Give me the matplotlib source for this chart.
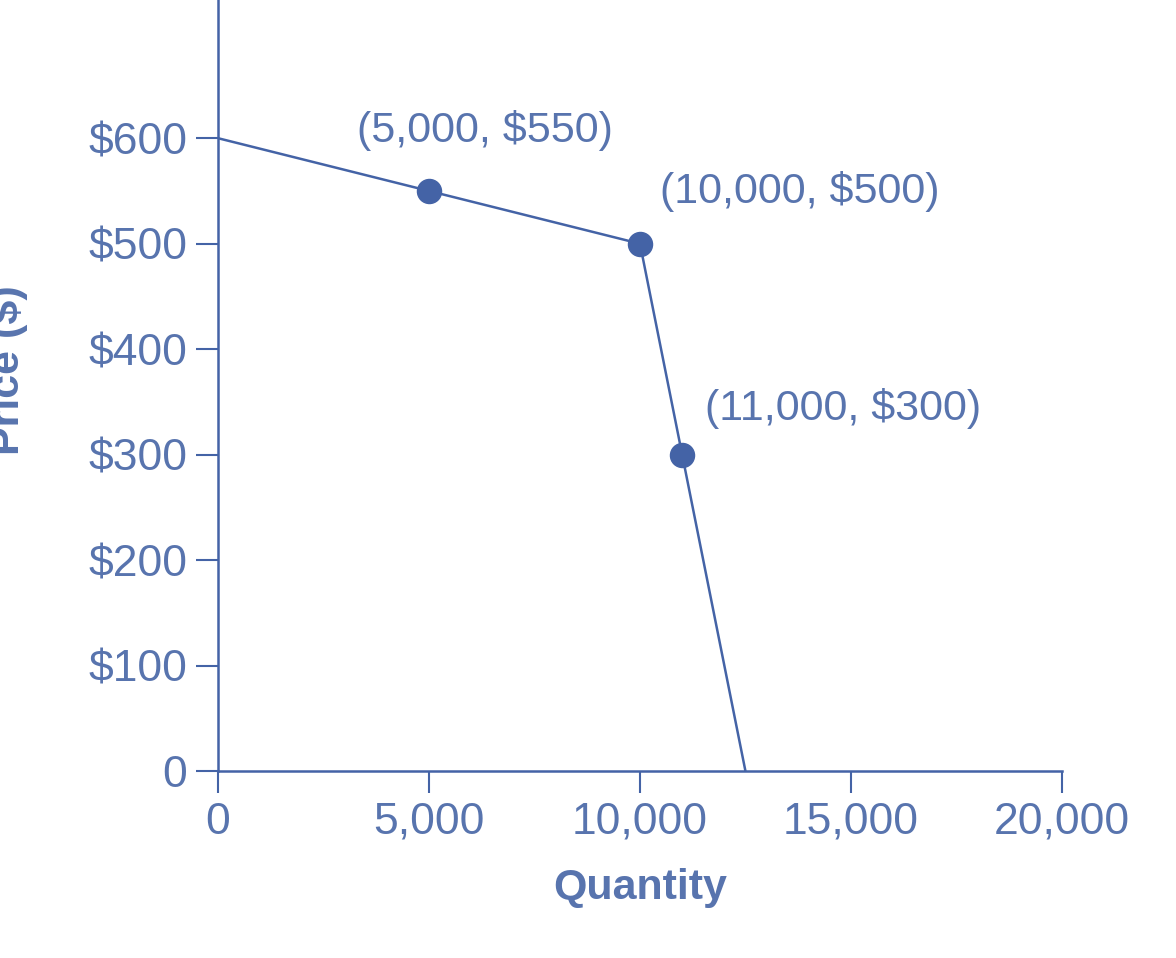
import matplotlib
matplotlib.use("Agg")
import matplotlib.pyplot as plt

line_x = [0, 5000, 10000, 11000, 12500]
line_y = [600, 550, 500, 300, 0]
pt_x = [5000, 10000, 11000]
pt_y = [550, 500, 300]
labels = ["(5,000, $550)", "(10,000, $500)", "(11,000, $300)"]
xticks = [0, 5000, 10000, 15000, 20000]
xticklabels = ["0", "5,000", "10,000", "15,000", "20,000"]
yticks = [0, 100, 200, 300, 400, 500, 600]
yticklabels = ["0", "$100", "$200", "$300", "$400", "$500", "$600"]

plt.rcParams['font.family'] = ['Liberation Sans', 'DejaVu Sans']
lc = '#4463a6'
tc = '#5874ae'
fig = plt.figure(figsize=(11.76, 9.58), dpi=100)
ax = fig.add_axes([0.1854, 0.195, 0.903 - 0.1854, 0.805])
ax.plot(line_x, line_y, color=lc, lw=1.8)
ax.scatter(pt_x, pt_y, s=300, color=lc, zorder=3)
ax.text(3300, 588, labels[0], ha='left', va='bottom', fontsize=31, color=tc)
ax.text(10470, 530, labels[1], ha='left', va='bottom', fontsize=31, color=tc)
ax.text(11540, 324, labels[2], ha='left', va='bottom', fontsize=31, color=tc)
ax.set_xlim(0, 20000)
ax.set_ylim(0, 731)
ax.set_xticks(xticks)
ax.set_xticklabels(xticklabels)
ax.set_yticks(yticks)
ax.set_yticklabels(yticklabels)
ax.tick_params(colors=lc, labelcolor=tc, labelsize=32, length=16, width=1.5, pad=6)
for s in ['top', 'right']:
    ax.spines[s].set_visible(False)
for s in ['left', 'bottom']:
    ax.spines[s].set_color(lc)
    ax.spines[s].set_linewidth(1.8)
ax.set_xlabel("Quantity", fontsize=31, fontweight='bold', color=tc, labelpad=18)
ax.set_ylabel("Price ($)", fontsize=31, fontweight='bold', color=tc, labelpad=22)
ax.yaxis.set_label_coords(-0.225, 0.52)
fig.savefig("out.png", dpi=100)
